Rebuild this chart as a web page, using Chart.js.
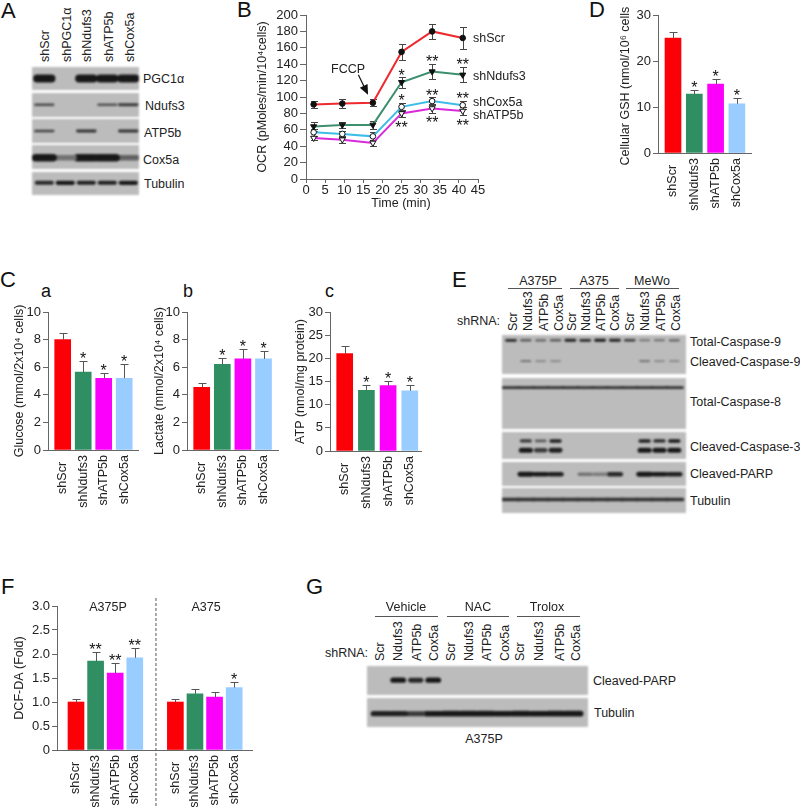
<!DOCTYPE html>
<html>
<head>
<meta charset="utf-8">
<script src="https://cdn.jsdelivr.net/npm/chart.js@4"></script>
<style>
html, body { margin: 0; padding: 0; background: #fff; }
#page { position: relative; width: 800px; height: 807px; overflow: hidden; font-family: "Liberation Sans", Arial, sans-serif; color: #222; }
#page canvas { position: absolute; }
.txt { position: absolute; white-space: nowrap; font-size: 12.5px; line-height: 15px; }
.rule { position: absolute; height: 1px; background: #555; }
</style>
</head>
<body>
<div id="page"></div>
<script>
// shared categories
const shCategories = ['shScr', 'shNdufs3', 'shATP5b', 'shCox5a'];
const barColors = ['#fb0007', '#2f8f62', '#fb00fb', '#99ccff'];
const barSlots = [1, 2, 3, 4];

// panel B
const ocrTimes = [2, 9.5, 17.5, 25, 33, 41];
const ocrScr = [91, 92, 93, 155, 180, 172];
const ocrScrErr = [4, 5, 4, 10, 9, 13];
const ocrNdufs3 = [64, 66, 66, 118, 131, 127];
const ocrNdufs3Err = [5, 4, 5, 7, 9, 9];
const ocrCox5a = [57, 55, 52, 88, 95, 90];
const ocrCox5aErr = [4, 4, 5, 5, 5, 5];
const ocrATP5b = [50, 48, 44, 80, 86, 83];
const ocrATP5bErr = [3, 4, 4, 4, 5, 5];
const ocrStarTimes = [25, 33, 41, 25, 33, 41, 25, 33, 41];
const ocrStarLevels = [131, 147, 144, 100, 106.5, 102.5, 67, 73, 69];
const ocrStarTexts = ['*', '**', '**', '*', '**', '**', '**', '**', '**'];

// panel C
const glucose = [8.0, 5.65, 5.2, 5.2];
const glucoseErr = [0.5, 0.8, 0.4, 1.05];
const lactate = [4.55, 6.2, 6.6, 6.6];
const lactateErr = [0.27, 0.5, 0.7, 0.55];
const atp = [21, 13.1, 14.1, 13];
const atpErr = [1.6, 1.1, 1.1, 1.2];
const oneStar = ['', '*', '*', '*'];

// panel D
const gsh = [25, 12.8, 15, 10.7];
const gshErr = [1.3, 1, 1, 1.3];

// panel F
const dcfCategories = shCategories.concat(shCategories);
const dcfSlots = [1, 2, 3, 4, 6.07, 7.07, 8.07, 9.07];
const dcf = [1, 1.85, 1.6, 1.92, 1, 1.17, 1.1, 1.3];
const dcfErr = [0.07, 0.2, 0.22, 0.2, 0.07, 0.11, 0.1, 0.12];
const dcfStars = ['', '**', '**', '**', '', '', '', '*'];
const dcfColors = barColors.concat(barColors);

// blot band strengths, one per lane
const blotA = {
    pgc: [1, 0, 1, 0.95, 0.95],
    ndufs3: [0.6, 0, 0, 0.55, 0.7],
    atp5b: [0.65, 0, 0.75, 0, 0.75],
    cox5a: [1, 0.35, 1, 1, 0.45],
    tubulin: [0.8, 0.9, 0.85, 0.85, 0.9]
};
const blotE = {
    totalCasp9: [0.8, 0.5, 0.45, 0.5, 0.85, 0.8, 0.9, 0.85, 0.7, 0.35, 0.4, 0.45],
    cleavedCasp9: [0, 0.4, 0.25, 0.25, 0, 0, 0, 0, 0, 0.4, 0.25, 0.25],
    totalCasp8: [0.75, 0.75, 0.75, 0.75, 0.75, 0.75, 0.75, 0.75, 0.75, 0.75, 0.75, 0.75],
    casp3Upper: [0, 0.7, 0.5, 0.85, 0, 0, 0, 0, 0, 0.85, 0.8, 0.9],
    casp3Lower: [0, 0.95, 0.7, 0.85, 0, 0, 0, 0, 0, 0.95, 0.9, 0.9],
    parp: [0, 1, 0.9, 0.85, 0, 0.35, 0.3, 0.8, 0, 1, 0.9, 0.85],
    tubulin: [0.75, 0.75, 0.75, 0.75, 0.75, 0.75, 0.75, 0.75, 0.75, 0.75, 0.75, 0.75]
};
const blotG = {
    parp: [0, 0.95, 0.8, 0.95, 0, 0, 0, 0, 0, 0, 0, 0],
    tubulin: [0.85, 0.85, 0.7, 0.9, 0.95, 0.95, 0.95, 0.9, 0.95, 0.9, 0.95, 0.95]
};

const laneNames = ['Scr', 'Ndufs3', 'ATP5b', 'Cox5a'];
const axisGray = '#666';
const textColor = '#222';

Chart.defaults.font.family = '"Liberation Sans", Arial, sans-serif';
Chart.defaults.font.size = 12.5;
Chart.defaults.color = textColor;
Chart.defaults.animation = false;
Chart.defaults.responsive = false;
Chart.defaults.plugins.legend.display = false;
Chart.defaults.plugins.tooltip.enabled = false;

const page = document.getElementById('page');

const addCanvas = (left, top, width, height) => {
    const c = document.createElement('canvas');
    c.width = width;
    c.height = height;
    c.style.left = left + 'px';
    c.style.top = top + 'px';
    page.appendChild(c);
    return c;
};

const label = (text, x, y, extra) => {
    const d = document.createElement('div');
    d.className = 'txt';
    d.textContent = text;
    d.style.left = x + 'px';
    d.style.top = y + 'px';
    d.style.transform = 'translateY(-50%)';
    Object.assign(d.style, extra || {});
    page.appendChild(d);
};
const centered = (text, x, y) => label(text, x, y, {transform: 'translate(-50%,-50%)'});
const upright = (text, x, bottom) => label(text, x, bottom, {
    writingMode: 'vertical-rl',
    transform: 'translate(-50%,-100%) rotate(180deg)'
});
const letter = (text, x, y, size) => label(text, x, y, {fontSize: size + 'px', lineHeight: size + 'px', color: '#111'});
const rule = (x1, x2, y) => {
    const d = document.createElement('div');
    d.className = 'rule';
    d.style.left = x1 + 'px';
    d.style.width = (x2 - x1) + 'px';
    d.style.top = y + 'px';
    page.appendChild(d);
};

// fixes the axis boxes so that chartArea lands on known pixels
const fixY = (w) => (s) => { s.width = w; s.paddingTop = 0; s.paddingBottom = 0; };
const fixX = (h) => (s) => { s.height = h; s.paddingLeft = 0; s.paddingRight = 0; };

const starAt = (ctx, text, x, centerY) => {
    ctx.save();
    ctx.font = '16px "Liberation Sans", Arial, sans-serif';
    ctx.fillStyle = '#111';
    ctx.textAlign = 'center';
    ctx.textBaseline = 'alphabetic';
    ctx.fillText(text, x, centerY + 9);
    ctx.restore();
};

const barPanel = (p) => {
    const left = Math.round(p.titleX - 8);
    const top = Math.round(p.axisTop) - 8;
    const yW = p.axisX - left;
    const width = Math.round(p.axisRight - left + 4);
    const height = p.canvasBottom - top;
    const spacing = p.spacing;
    const slots = p.slots || barSlots;
    const xMin = slots[0] - (p.firstCenter - p.axisX) / spacing;
    const xMax = xMin + (p.axisRight - p.axisX) / spacing;

    const whiskers = {
        id: 'whiskers',
        afterDatasetsDraw(chart) {
            const {ctx, scales: {y}} = chart;
            const bars = chart.getDatasetMeta(0).data;
            ctx.save();
            ctx.strokeStyle = '#555';
            ctx.lineWidth = 1;
            bars.forEach((b, i) => {
                const top = Math.round(y.getPixelForValue(p.values[i] + p.errors[i])) + 0.5;
                const x = Math.round(b.x) + 0.5;
                ctx.beginPath();
                ctx.moveTo(x, y.getPixelForValue(p.values[i]));
                ctx.lineTo(x, top);
                ctx.moveTo(x - 4, top);
                ctx.lineTo(x + 4, top);
                ctx.stroke();
                if (p.stars[i]) starAt(ctx, p.stars[i], b.x, top - 7);
            });
            ctx.restore();
            if (p.dividerAt) {
                const px = chart.scales.x.getPixelForValue(p.dividerAt);
                ctx.save();
                ctx.strokeStyle = '#555';
                ctx.setLineDash([3, 2]);
                ctx.beginPath();
                ctx.moveTo(px, 0);
                ctx.lineTo(px, chart.height);
                ctx.stroke();
                ctx.restore();
            }
        }
    };

    new Chart(addCanvas(left, top, width, height), {
        type: 'bar',
        data: {
            datasets: [{
                data: p.values.map((v, i) => ({x: slots[i], y: v})),
                backgroundColor: p.colors || barColors,
                barThickness: 16
            }]
        },
        options: {
            layout: {padding: {top: Math.round(p.axisTop) - top, right: width - (p.axisRight - left), left: 0, bottom: 0}},
            scales: {
                x: {
                    type: 'linear',
                    offset: false,
                    min: xMin,
                    max: xMax,
                    afterBuildTicks: (s) => { s.ticks = slots.map(v => ({value: v})); },
                    afterFit: fixX(height - (p.axisBottom - top)),
                    grid: {display: false},
                    border: {color: axisGray},
                    ticks: {
                        autoSkip: false,
                        minRotation: 90,
                        maxRotation: 90,
                        padding: -3,
                        callback: (v, i) => {
                            const name = p.categories[i];
                            return name === 'shScr' ? name + '  ' : name;
                        }
                    }
                },
                y: {
                    min: 0,
                    max: p.max,
                    afterBuildTicks: (s) => {
                        s.ticks = [];
                        for (let v = 0; v <= p.max; v += p.step) s.ticks.push({value: v});
                    },
                    afterFit: fixY(yW),
                    grid: {drawOnChartArea: false, tickLength: 5, color: axisGray},
                    border: {color: axisGray},
                    ticks: {padding: 2, autoSkip: false, font: {size: 13}},
                    title: {display: true, text: p.title, padding: 0}
                }
            }
        },
        plugins: [whiskers]
    });
};

const ocrPanel = () => {
    const axisX = 306, axisTop = 15, axisBottom = 179, axisRight = 478;
    const left = 255, top = 5;
    const width = 240, height = 192;
    const sets = [
        {name: 'shScr', values: ocrScr, errs: ocrScrErr, line: '#ee2a30', fill: '#111', tri: false},
        {name: 'shNdufs3', values: ocrNdufs3, errs: ocrNdufs3Err, line: '#3d8f6e', fill: '#111', tri: true},
        {name: 'shCox5a', values: ocrCox5a, errs: ocrCox5aErr, line: '#3dbde8', fill: '#fff', tri: false},
        {name: 'shATP5b', values: ocrATP5b, errs: ocrATP5bErr, line: '#d92ad9', fill: '#fff', tri: true}
    ];
    const whiskers = {
        id: 'ocrWhiskers',
        beforeDatasetsDraw(chart) {
            const {ctx, scales: {x, y}} = chart;
            ctx.save();
            ctx.strokeStyle = '#444';
            ctx.lineWidth = 1;
            sets.forEach(s => s.values.forEach((v, i) => {
                const px = Math.round(x.getPixelForValue(ocrTimes[i])) + 0.5;
                const hi = Math.round(y.getPixelForValue(v + s.errs[i])) + 0.5;
                const lo = Math.round(y.getPixelForValue(v - s.errs[i])) + 0.5;
                ctx.beginPath();
                ctx.moveTo(px, hi);
                ctx.lineTo(px, lo);
                ctx.moveTo(px - 3.5, hi);
                ctx.lineTo(px + 3.5, hi);
                ctx.moveTo(px - 3.5, lo);
                ctx.lineTo(px + 3.5, lo);
                ctx.stroke();
            }));
            ctx.restore();
        },
        afterDatasetsDraw(chart) {
            const {ctx, scales: {x, y}} = chart;
            ocrStarTexts.forEach((t, i) => {
                starAt(ctx, t, x.getPixelForValue(ocrStarTimes[i]), y.getPixelForValue(ocrStarLevels[i]));
            });
            // FCCP arrow
            const x1 = x.getPixelForValue(13.7), y1 = y.getPixelForValue(127);
            const x2 = x.getPixelForValue(16), y2 = y.getPixelForValue(105);
            const a = Math.atan2(y2 - y1, x2 - x1);
            ctx.save();
            ctx.strokeStyle = '#111';
            ctx.fillStyle = '#111';
            ctx.lineWidth = 1.2;
            ctx.beginPath();
            ctx.moveTo(x1, y1);
            ctx.lineTo(x2, y2);
            ctx.stroke();
            ctx.beginPath();
            ctx.moveTo(x2 + 2 * Math.cos(a), y2 + 2 * Math.sin(a));
            ctx.lineTo(x2 - 9 * Math.cos(a - 0.5), y2 - 9 * Math.sin(a - 0.5));
            ctx.lineTo(x2 - 9 * Math.cos(a + 0.5), y2 - 9 * Math.sin(a + 0.5));
            ctx.closePath();
            ctx.fill();
            ctx.restore();
        }
    };
    new Chart(addCanvas(left, top, width, height), {
        type: 'line',
        data: {
            datasets: sets.map(s => ({
                label: s.name,
                data: s.values.map((v, i) => ({x: ocrTimes[i], y: v})),
                borderColor: s.line,
                borderWidth: 2,
                tension: 0,
                pointStyle: s.tri ? 'triangle' : 'circle',
                pointRotation: s.tri ? 180 : 0,
                pointRadius: s.tri ? 3.5 : 2.8,
                pointBackgroundColor: s.fill,
                pointBorderColor: '#111',
                pointBorderWidth: 1
            }))
        },
        options: {
            layout: {padding: {top: axisTop - top, right: left + width - axisRight, left: 0, bottom: 0}},
            scales: {
                x: {
                    type: 'linear',
                    min: 0,
                    max: 45,
                    afterFit: fixX(height - (axisBottom - top)),
                    grid: {drawOnChartArea: false, tickLength: 4, color: axisGray},
                    border: {color: axisGray},
                    ticks: {stepSize: 5, padding: 0, maxRotation: 0, autoSkip: false, font: {size: 13}}
                },
                y: {
                    min: 0,
                    max: 200,
                    afterFit: fixY(axisX - left),
                    grid: {drawOnChartArea: false, tickLength: 6, color: axisGray},
                    border: {color: axisGray},
                    ticks: {stepSize: 20, padding: 2, autoSkip: false, font: {size: 13}},
                    title: {display: true, text: 'OCR (pMoles/min/10⁴cells)', padding: 0}
                }
            }
        },
        plugins: [whiskers]
    });
};

// one membrane of a western blot: gray strip with bands on a lane scale
const stripGray = 188;
const bandColor = (v) => {
    const g = Math.round(stripGray - (stripGray - 24) * Math.min(1, v + 0.1));
    return `rgb(${g},${g},${g})`;
};
const blotRow = (box, lanes, bands) => {
    const [x1, x2, y1, y2] = box.map(Math.round);
    const count = bands[0].values.length;
    const sp = (lanes[1] - lanes[0]) / (count - 1);
    const strip = {
        id: 'strip',
        beforeDraw(chart) {
            chart.ctx.fillStyle = bandColor(-0.1);
            chart.ctx.fillRect(0, 0, chart.width, chart.height);
        }
    };
    const datasets = [];
    bands.forEach(b => b.values.forEach((v, i) => {
        if (!v) return;
        const half = b.span || 0.3;
        datasets.push({
            data: [{x: i - half, y: b.level}, {x: i + half, y: b.level}],
            borderColor: bandColor(v),
            borderWidth: b.thick * (0.65 + 0.5 * v),
            borderCapStyle: 'round',
            pointRadius: 0,
            clip: false
        });
    }));
    const canvas = addCanvas(x1, y1, x2 - x1, y2 - y1);
    canvas.style.filter = 'blur(1px)';
    new Chart(canvas, {
        type: 'line',
        data: {datasets},
        options: {
            layout: {padding: 0},
            scales: {
                x: {type: 'linear', display: false, min: -(lanes[0] - x1) / sp, max: count - 1 + (x2 - lanes[1]) / sp},
                y: {display: false, min: 0, max: 1, reverse: true}
            }
        },
        plugins: [strip]
    });
};

// panel letters
letter('A', 1, 11, 22);
letter('B', 237, 10, 22);
letter('C', 0, 280, 22);
letter('a', 41, 291, 18);
letter('b', 183, 291, 18);
letter('c', 325, 291, 18);
letter('D', 589, 10, 22);
letter('E', 452, 280, 22);
letter('F', 1, 587, 22);
letter('G', 306, 587, 22);

// A
['shScr', 'shPGC1α', 'shNdufs3', 'shATP5b', 'shCox5a'].forEach((t, i) => upright(t, [45, 66.7, 87.3, 109, 130][i], 62));
const lanesA = [44.3, 128.3];
blotRow([32, 139, 67, 90], lanesA, [{level: 0.5, thick: 7, values: blotA.pgc, span: 0.34}]);
blotRow([32, 139, 93, 117], lanesA, [{level: 0.49, thick: 2.8, values: blotA.ndufs3, span: 0.42}]);
blotRow([32, 139, 119, 143], lanesA, [{level: 0.5, thick: 2.8, values: blotA.atp5b, span: 0.42}]);
blotRow([32, 139, 145, 169], lanesA, [{level: 0.53, thick: 6.5, values: blotA.cox5a, span: 0.42}]);
blotRow([32, 139, 172, 195], lanesA, [{level: 0.47, thick: 3.8, values: blotA.tubulin, span: 0.36}]);
label('PGC1α', 143, 79);
label('Ndufs3', 145, 106);
label('ATP5b', 144, 133);
label('Cox5a', 143, 160);
label('Tubulin', 144, 184);

// B
ocrPanel();
label('shScr', 473, 38);
label('shNdufs3', 473, 76);
label('shCox5a', 473, 102);
label('shATP5b', 473, 115);
label('FCCP', 331, 69);
centered('Time (min)', 401, 203);

// C
barPanel({titleX: 20, axisX: 48, axisTop: 312, axisBottom: 450, axisRight: 138, canvasBottom: 514,
    firstCenter: 62.7, spacing: 20.5, categories: shCategories, values: glucose, errors: glucoseErr,
    stars: oneStar, max: 10, step: 2, title: 'Glucose (mmol/2x10⁴ cells)'});
barPanel({titleX: 160, axisX: 187, axisTop: 312, axisBottom: 450, axisRight: 278, canvasBottom: 514,
    firstCenter: 201.7, spacing: 20.6, categories: shCategories, values: lactate, errors: lactateErr,
    stars: oneStar, max: 10, step: 2, title: 'Lactate (mmol/2x10⁴ cells)'});
barPanel({titleX: 301, axisX: 330, axisTop: 312, axisBottom: 451, axisRight: 421, canvasBottom: 514,
    firstCenter: 344.7, spacing: 21.7, categories: shCategories, values: atp, errors: atpErr,
    stars: oneStar, max: 30, step: 5, title: 'ATP (nmol/mg protein)'});

// D
barPanel({titleX: 626, axisX: 658, axisTop: 15, axisBottom: 153, axisRight: 751, canvasBottom: 216,
    firstCenter: 673, spacing: 21.3, categories: shCategories, values: gsh, errors: gshErr,
    stars: oneStar, max: 30, step: 10, title: 'Cellular GSH (nmol/10⁶ cells)'});

// E
[['A375P', 538, 508, 562], ['A375', 594, 570, 619], ['MeWo', 652, 626, 679]].forEach(h => {
    centered(h[0], h[1], 281);
    rule(h[2], h[3], 288);
});
label('shRNA:', 457, 321);
const laneLabelsE = [512.7, 527.5, 544, 558.5, 572, 586, 601, 615, 630, 645, 660.5, 675.5];
laneLabelsE.forEach((x, i) => upright(laneNames[i % 4], x, 331));
const lanesE = [511, 674.3];
blotRow([502, 686, 335, 374], lanesE, [
    {level: 0.135, thick: 2.6, values: blotE.totalCasp9},
    {level: 0.67, thick: 2.2, values: blotE.cleavedCasp9}
]);
blotRow([502, 686, 378, 429], lanesE, [{level: 0.19, thick: 2.6, values: blotE.totalCasp8, span: 0.55}]);
blotRow([502, 686, 432, 459], lanesE, [
    {level: 0.33, thick: 3.2, values: blotE.casp3Upper},
    {level: 0.675, thick: 4.6, values: blotE.casp3Lower}
]);
blotRow([502, 686, 462, 486], lanesE, [{level: 0.51, thick: 4.2, values: blotE.parp, span: 0.4}]);
blotRow([502, 686, 488, 513], lanesE, [{level: 0.46, thick: 3.6, values: blotE.tubulin, span: 0.55}]);
label('Total-Caspase-9', 690, 342);
label('Cleaved-Caspase-9', 690, 362);
label('Total-Caspase-8', 690, 402);
label('Cleaved-Caspase-3', 690, 447);
label('Cleaved-PARP', 690, 474);
label('Tubulin', 690, 501);

// F
barPanel({titleX: 20, axisX: 57, axisTop: 606, axisBottom: 750, axisRight: 252, canvasBottom: 807,
    firstCenter: 76, spacing: 19.6, slots: dcfSlots, categories: dcfCategories, values: dcf, errors: dcfErr,
    stars: dcfStars, colors: dcfColors, max: 3, step: 0.5, dividerAt: 5.08, title: 'DCF-DA (Fold)'});
centered('A375P', 108, 607);
centered('A375', 206, 607);

// G
[['Vehicle', 406, 375, 438], ['NAC', 478, 447, 509], ['Trolox', 547, 517, 580]].forEach(h => {
    centered(h[0], h[1], 607);
    rule(h[2], h[3], 616);
});
label('shRNA:', 325, 653);
const laneLabelsG = [379.5, 397.5, 416.5, 433.5, 451, 469, 487, 504.5, 519.5, 539, 559.5, 576];
laneLabelsG.forEach((x, i) => upright(laneNames[i % 4], x, 661));
const lanesG = [380.7, 573.3];
blotRow([367, 588, 666, 695], lanesG, [{level: 0.49, thick: 4.6, values: blotG.parp}]);
blotRow([367, 588, 698, 727], lanesG, [{level: 0.54, thick: 5, values: blotG.tubulin, span: 0.42}]);
label('Cleaved-PARP', 593, 681);
label('Tubulin', 594, 713);
centered('A375P', 484, 739);
</script>
</body>
</html>
